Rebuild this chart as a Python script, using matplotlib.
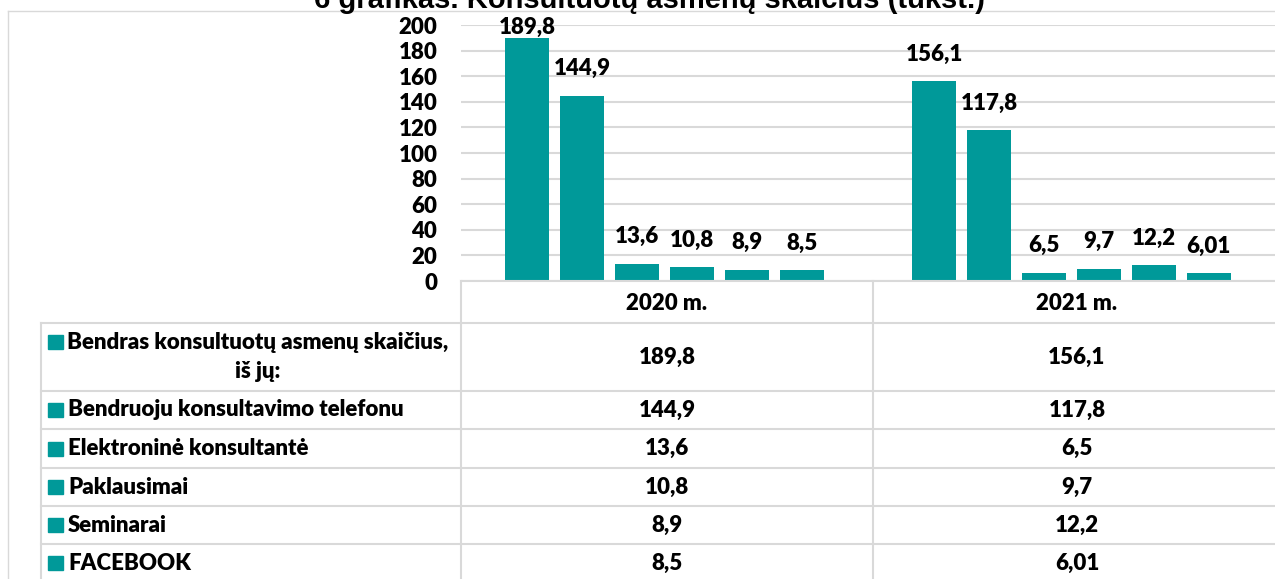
import matplotlib
matplotlib.use('Agg')
import matplotlib.pyplot as plt
import numpy as np

# data
years = ['2020 m.', '2021 m.']
series = ['Bendras konsultuotų asmenų skaičius,\niš jų:',
          'Bendruoju konsultavimo telefonu',
          'Elektroninė konsultantė',
          'Paklausimai',
          'Seminarai',
          'FACEBOOK']
values_2020 = [189.8, 144.9, 13.6, 10.8, 8.9, 8.5]
values_2021 = [156.1, 117.8, 6.5, 9.7, 12.2, 6.01]
labels_2020 = ['189,8', '144,9', '13,6', '10,8', '8,9', '8,5']
labels_2021 = ['156,1', '117,8', '6,5', '9,7', '12,2', '6,01']
yticks = [0, 20, 40, 60, 80, 100, 120, 140, 160, 180, 200]

title = '6 grafikas. Konsultuotų asmenų skaičius (tūkst.)'

teal = '#009999'
grid_grey = '#d9d9d9'
font = 'Lato'
weight = 'heavy'
fs = 16
W, H = 1275, 579

fig = plt.figure(figsize=(W / 100, H / 100), dpi=100)

# bar axes: x from 461 px to right edge, y=0 at 281 px, y=200 at 25 px
ax = fig.add_axes([461 / W, (H - 281) / H, (W - 461) / W, (281 - 25) / H])
ax.set_xlim(-0.5, 1.5)
ax.set_ylim(0, 200)

pitch = 0.135
width = 0.108
offsets = (np.arange(len(series)) - (len(series) - 1) / 2) * pitch
for g, (vals, labs) in enumerate([(values_2020, labels_2020), (values_2021, labels_2021)]):
    xs = g + offsets
    ax.bar(xs, vals, width=width, color=teal, zorder=3)
    for x, v, lab in zip(xs, vals, labs):
        # labels sit ~18 px above the bar, pulled down when they hit the top
        y = v + 13 if v + 13 <= 200 else v
        ax.text(x, y, lab, ha='center', va='bottom', fontsize=fs,
                fontweight=weight, family=font, clip_on=False, zorder=4)

ax.set_yticks(yticks)
ax.set_yticklabels([str(t) for t in yticks], fontsize=fs, fontweight=weight, family=font)
ax.tick_params(axis='y', length=0, pad=17)
ax.set_xticks([])
ax.grid(axis='y', color=grid_grey, linewidth=1.5, zorder=0)
for s in ax.spines.values():
    s.set_visible(False)

# overlay axes in pixel coordinates for the title, chart frame and data table
ov = fig.add_axes([0, 0, 1, 1])
ov.set_xlim(0, W)
ov.set_ylim(H, 0)
ov.axis('off')
ov.patch.set_alpha(0)

# chart frame (only top and left edges are inside the picture)
ov.plot([8, W], [10.5, 10.5], color=grid_grey, linewidth=1)
ov.plot([8, 8], [10.5, H], color=grid_grey, linewidth=1)

ov.text(650, 8, title, ha='center', va='baseline', fontsize=21,
        fontweight='bold', family='Liberation Sans')

line_kw = dict(color=grid_grey, linewidth=1.5)
row_edges = [323, 391, 429, 468, 506, 544, 582]
ov.plot([461, W], [281, 281], **line_kw)
for y in row_edges[:-1]:
    ov.plot([41, W], [y, y], **line_kw)
ov.plot([41, 41], [323, H], **line_kw)
ov.plot([461, 461], [281, H], **line_kw)
ov.plot([873, 873], [281, H], **line_kw)

col_x = [667, 1077]
for cx, yr in zip(col_x, years):
    ov.text(cx, 303, yr, ha='center', va='center', fontsize=fs,
            fontweight=weight, family=font)

for i, name in enumerate(series):
    top, bot = row_edges[i], row_edges[i + 1]
    cy = (top + bot) / 2
    if i == 0:
        ov.add_patch(plt.Rectangle((48, 335), 15, 14, color=teal))
        ov.text(258, cy, name, ha='center', va='center', fontsize=fs,
                fontweight=weight, family=font, linespacing=1.45)
    else:
        ov.add_patch(plt.Rectangle((48, cy - 7), 15, 14, color=teal))
        ov.text(68, cy, name, ha='left', va='center', fontsize=fs,
                fontweight=weight, family=font)
    ov.text(col_x[0], cy, labels_2020[i], ha='center', va='center', fontsize=fs,
            fontweight=weight, family=font)
    ov.text(col_x[1], cy, labels_2021[i], ha='center', va='center', fontsize=fs,
            fontweight=weight, family=font)

fig.savefig('out.png', dpi=100)
